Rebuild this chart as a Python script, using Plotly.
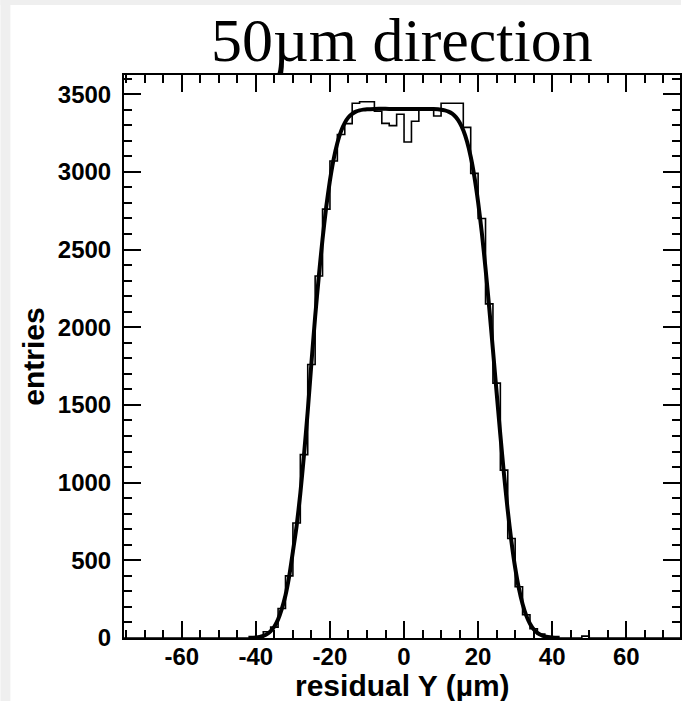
import plotly.graph_objects as go

# ---------------- data ----------------
# histogram: bin width 2 um, left bin edges from -76 to 74
hist_left_edges = list(range(-76, 76, 2))
hist_counts = (
    [0] * 18 +                                                    # -76 .. -42
    [5, 40, 70, 190, 400, 740, 1180, 1760, 2330, 2760,            # -40 .. -22
     3070, 3240, 3310, 3441, 3451, 3451, 3390, 3312, 3297, 3370,  # -20 .. -2
     3192, 3325, 3405, 3405, 3359, 3441, 3441, 3441, 3286, 2990,  # 0 .. 18
     2700, 2150, 1640, 1080, 640, 330, 150, 60, 25, 5] +          # 20 .. 38
    [0, 0, 0, 0, 12] +                                            # 40 .. 48
    [0] * 13                                                      # 50 .. 74
)
assert len(hist_counts) == len(hist_left_edges)

fit_x = [-42, -40, -39, -38, -37, -36, -35, -34, -33, -32, -31, -30, -29, -28, -27,
         -26, -25, -24, -23, -22, -21, -20, -19, -18, -17, -16, -15, -14, -13, -12,
         -11, -10, -8, -4, 0, 4, 8, 10, 11, 12, 13, 14, 15, 16, 17, 18, 19, 20, 21,
         22, 23, 24, 25, 26, 27, 28, 29, 30, 31, 32, 33, 34, 35, 36, 37, 38, 40, 42]
fit_y = [1, 4, 7, 14, 25, 44, 74, 120, 187, 275, 398, 557, 720, 930, 1180,
         1460, 1770, 2066, 2329, 2567, 2775, 2945, 3082, 3186, 3262, 3315, 3351, 3373, 3387, 3395,
         3400, 3403, 3405, 3405, 3405, 3405, 3404, 3400, 3395, 3387, 3374, 3352, 3318, 3267, 3195, 3097, 2967, 2804, 2607,
         2378, 2125, 1854, 1578, 1306, 1050, 820, 620, 453, 320, 219, 144, 92, 56, 33, 19, 10, 3, 1]

x_tick_vals = [-60, -40, -20, 0, 20, 40, 60]
x_tick_text = ["-60", "-40", "-20", "0", "20", "40", "60"]
y_tick_vals = [0, 500, 1000, 1500, 2000, 2500, 3000, 3500]
y_tick_text = ["0", "500", "1000", "1500", "2000", "2500", "3000", "3500"]

title_text = "50µm direction"
x_title = "residual Y (µm)"
y_title = "entries"

# ---------------- figure ----------------
W, H = 683, 701
ML, MR, MT, MB = 124, 1, 75, 63

hx = hist_left_edges + [hist_left_edges[-1] + 2]
hy = hist_counts + [hist_counts[-1]]

fig = go.Figure()
fig.add_trace(go.Scatter(x=hx, y=hy, mode="lines",
                         line=dict(color="black", width=1.6, shape="hv"),
                         showlegend=False, hoverinfo="skip"))
fig.add_trace(go.Scatter(x=fit_x, y=fit_y, mode="lines",
                         line=dict(color="black", width=4, shape="spline", smoothing=0.6),
                         showlegend=False, hoverinfo="skip"))

tick_font = dict(family="Liberation Sans, Arial, sans-serif", size=24, color="black", weight="bold")
title_font = dict(family="Liberation Sans, Arial, sans-serif", size=30, color="black", weight="bold")

fig.update_xaxes(range=[-75.6, 74.5], showgrid=False, zeroline=False,
                 showline=True, linecolor="black", linewidth=2, mirror="ticks",
                 ticks="inside", ticklen=17, tickwidth=1.5, tickcolor="black",
                 tickvals=x_tick_vals, ticktext=x_tick_text, tickfont=tick_font,
                 ticklabelstandoff=-4,
                 minor=dict(dtick=5, tick0=0, ticks="inside", ticklen=8, tickwidth=1.5,
                            tickcolor="black", showgrid=False))
fig.update_yaxes(range=[0, 3623], showgrid=False, zeroline=False,
                 showline=True, linecolor="black", linewidth=2, mirror="ticks",
                 ticks="inside", ticklen=17, tickwidth=1.5, tickcolor="black",
                 tickvals=y_tick_vals, ticktext=y_tick_text, tickfont=tick_font,
                 ticklabelstandoff=6,
                 minor=dict(dtick=100, tick0=0, ticks="inside", ticklen=8, tickwidth=1.5,
                            tickcolor="black", showgrid=False),
                 title=dict(text=y_title, font=title_font, standoff=4))

pw = W - ML - MR
ph = H - MT - MB
def px_to_paper_x(p):
    return (p - ML) / pw
def px_to_paper_y(p):
    return 1 - (p - MT) / ph

shapes = [
    dict(type="rect", xref="paper", yref="paper",
         x0=px_to_paper_x(0), x1=px_to_paper_x(10), y0=px_to_paper_y(H), y1=px_to_paper_y(0),
         fillcolor="#efefef", line=dict(width=0), layer="below"),
    dict(type="rect", xref="paper", yref="paper",
         x0=px_to_paper_x(0), x1=px_to_paper_x(W), y0=px_to_paper_y(5), y1=px_to_paper_y(0),
         fillcolor="#efefef", line=dict(width=0), layer="below"),
]

fig.update_layout(
    width=W, height=H,
    margin=dict(l=ML, r=MR, t=MT, b=MB, pad=0),
    paper_bgcolor="white", plot_bgcolor="white",
    shapes=shapes,
    annotations=[
        dict(text=title_text, xref="paper", yref="paper",
             x=px_to_paper_x(403), y=px_to_paper_y(40),
             xanchor="center", yanchor="middle", showarrow=False,
             font=dict(family="Liberation Serif, Times New Roman, serif",
                       size=62, color="black")),
        dict(text=x_title, xref="paper", yref="paper",
             x=px_to_paper_x(404), y=px_to_paper_y(685),
             xanchor="center", yanchor="middle", showarrow=False,
             font=title_font),
    ],
)

fig.write_html("out.html")
